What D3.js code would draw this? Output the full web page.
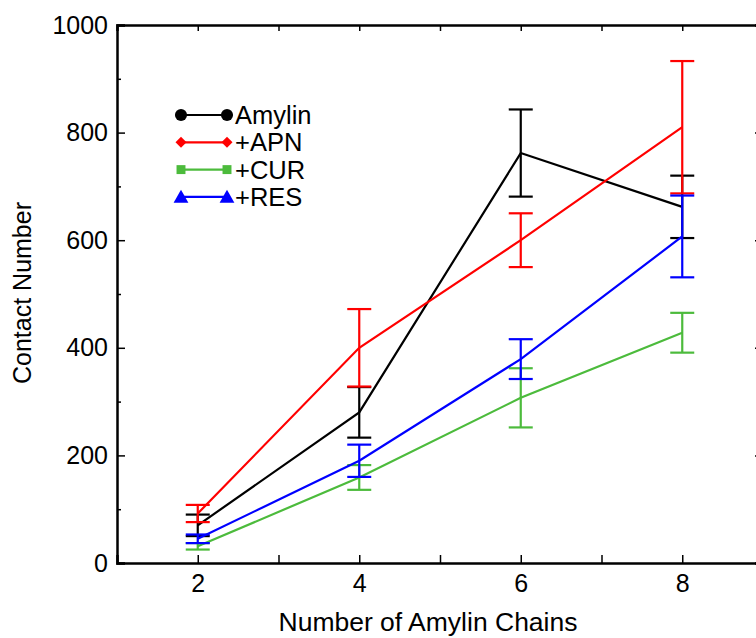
<!DOCTYPE html>
<html>
<head>
<meta charset="utf-8">
<script src="https://cdn.jsdelivr.net/npm/d3@7"></script>
<style>
  html, body { margin: 0; padding: 0; background: #fff; }
  svg { display: block; }
  text { font-family: "Liberation Sans", Arial, Helvetica, sans-serif; fill: #000; }
</style>
</head>
<body>
<svg id="chart" width="756" height="638"></svg>
<script>
// ---- data ----
const chains = [2, 4, 6, 8];
const seriesNames = ["Amylin", "+APN", "+CUR", "+RES"];
const seriesColors = ["#000000", "#ff0000", "#4cbb3c", "#0000ff"];
const seriesSymbols = ["circle", "diamond", "square", "triangle"];
const amylinMean = [70, 280, 762, 662];
const amylinErr  = [20, 47, 81, 58];
const apnMean    = [92, 400, 600, 810];
const apnErr     = [16, 72, 50, 123];
const curMean    = [31, 159, 307, 428];
const curErr     = [6, 23, 55, 37];
const resMean    = [45, 190, 379, 607];
const resErr     = [8, 30, 37, 76];
const yTicks = [0, 200, 400, 600, 800, 1000];
const xTicks = [2, 4, 6, 8];
const xTitle = "Number of Amylin Chains";
const yTitle = "Contact Number";

const means = [amylinMean, apnMean, curMean, resMean];
const errs = [amylinErr, apnErr, curErr, resErr];

// ---- layout ----
const svg = d3.select("#chart");
const plotLeft = 117, plotTop = 25, plotW = 646, plotH = 538;
const x = d3.scaleLinear().domain([1, 9]).range([plotLeft, plotLeft + plotW]);
const y = d3.scaleLinear().domain([0, 1000]).range([plotTop + plotH, plotTop]);

const fontSize = 25;

// minor ticks
const yMinor = d3.range(100, 1000, 200);
const xMinor = [3, 5, 7];

const axG = svg.append("g");
// left axis
const leftAxis = d3.axisLeft(y).tickValues(yTicks).tickSize(-8).tickPadding(9).tickFormat(d3.format("d"));
const gl = axG.append("g").attr("transform", `translate(${plotLeft},0)`).call(leftAxis);
gl.selectAll("text").style("font-size", fontSize + "px");
axG.append("g").attr("transform", `translate(${plotLeft},0)`)
  .call(d3.axisLeft(y).tickValues(yMinor).tickSize(-4).tickFormat(""))
  .call(g => g.select(".domain").remove());
// right axis
axG.append("g").attr("transform", `translate(${plotLeft + plotW},0)`)
  .call(d3.axisRight(y).tickValues(yTicks).tickSize(-8).tickFormat(""));
// bottom axis
const gb = axG.append("g").attr("transform", `translate(0,${plotTop + plotH})`)
  .call(d3.axisBottom(x).tickValues(xTicks).tickSize(-8).tickPadding(11).tickFormat(d3.format("d")));
gb.selectAll("text").style("font-size", fontSize + "px");
axG.append("g").attr("transform", `translate(0,${plotTop + plotH})`)
  .call(d3.axisBottom(x).tickValues(xMinor).tickSize(-8).tickFormat(""))
  .call(g => g.select(".domain").remove());
// top axis
axG.append("g").attr("transform", `translate(0,${plotTop})`)
  .call(d3.axisTop(x).tickValues(xTicks.concat(xMinor)).tickSize(-6).tickFormat(""));

axG.selectAll(".domain").attr("stroke", "#000").attr("stroke-width", 2.5);
axG.selectAll(".tick line").attr("stroke", "#000").attr("stroke-width", 1.5);

// titles
svg.append("text").attr("x", 428).attr("y", 631).attr("text-anchor", "middle")
  .style("font-size", "26.5px").text(xTitle);
svg.append("text").attr("transform", `translate(31,${293}) rotate(-90)`).attr("text-anchor", "middle")
  .style("font-size", "25px").text(yTitle);

// ---- series ----
const line = d3.line().x(d => x(d.x)).y(d => y(d.y));
const capW = 12;
means.forEach((m, i) => {
  const pts = chains.map((c, j) => ({ x: c, y: m[j], e: errs[i][j] }));
  const g = svg.append("g").attr("stroke", seriesColors[i]).attr("stroke-width", 2.2).attr("fill", "none");
  g.append("path").attr("d", line(pts));
  pts.forEach(p => {
    const cx = x(p.x);
    g.append("line").attr("x1", cx).attr("x2", cx).attr("y1", y(p.y - p.e)).attr("y2", y(p.y + p.e));
    g.append("line").attr("x1", cx - capW).attr("x2", cx + capW).attr("y1", y(p.y - p.e)).attr("y2", y(p.y - p.e));
    g.append("line").attr("x1", cx - capW).attr("x2", cx + capW).attr("y1", y(p.y + p.e)).attr("y2", y(p.y + p.e));
  });
});

// ---- legend ----
const symMap = { circle: d3.symbolCircle, diamond: d3.symbolSquare, square: d3.symbolSquare, triangle: d3.symbolTriangle };
const symSize = { circle: 115, diamond: 60, square: 80, triangle: 95 };
const symRot = { circle: 0, diamond: 45, square: 0, triangle: 0 };
const legX1 = 181, legX2 = 227, legY0 = 115, legDy = 27.3;
seriesNames.forEach((name, i) => {
  const ly = legY0 + i * legDy;
  const s = seriesSymbols[i];
  const g = svg.append("g");
  g.append("line").attr("x1", legX1).attr("x2", legX2).attr("y1", ly).attr("y2", ly)
    .attr("stroke", seriesColors[i]).attr("stroke-width", 2.2);
  const sym = d3.symbol().type(symMap[s]).size(symSize[s]);
  [legX1, legX2].forEach(sx => {
    g.append("path").attr("d", sym())
      .attr("transform", `translate(${sx},${ly + (s === "triangle" ? 1.5 : 0)}) rotate(${symRot[s]})`)
      .attr("fill", seriesColors[i]);
  });
  g.append("text").attr("x", 235).attr("y", ly).attr("dy", "0.36em").style("font-size", "25.5px").text(name);
});
</script>
</body>
</html>
